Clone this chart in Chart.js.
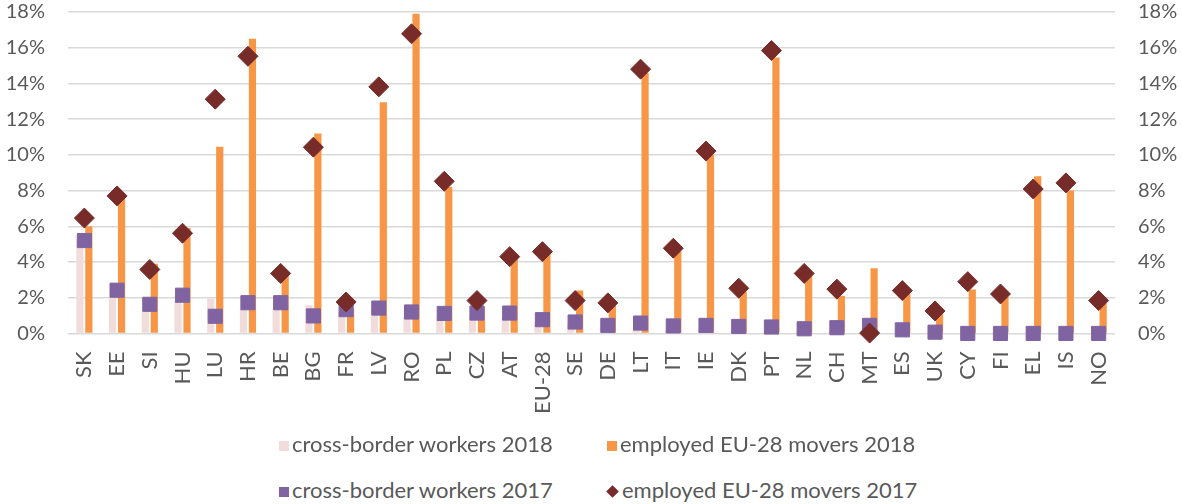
<!DOCTYPE html>
<html>
<head>
<meta charset="utf-8">
<script src="https://cdn.jsdelivr.net/npm/chart.js@4.4.1/dist/chart.umd.min.js"></script>
<style>
    body { margin: 0; background: #fff; font-family: Lato, sans-serif; }
    #wrap { position: relative; width: 1182px; height: 504px; overflow: hidden; }
    #chartBox { position: absolute; left: 0; top: 0; width: 1182px; height: 442px; }
    .item { position: absolute; font-size: 22px; color: #595959; white-space: nowrap; line-height: 24px; }
    .box { display: inline-block; width: 10px; height: 10px; margin-right: 3px; vertical-align: 1px; }
    .dia { display: inline-block; width: 9px; height: 9px; margin: 0 5px 0 1px; transform: rotate(45deg); vertical-align: 2px; background: #772C2A; }
</style>
</head>
<body>
<div id="wrap">
    <div id="chartBox"><canvas id="barChart"></canvas></div>
    <div class="item" style="left:279px; top:432px;"><span class="box" style="background:#F2DCDB"></span>cross-border workers 2018</div>
    <div class="item" style="left:607px; top:432px;"><span class="box" style="background:#F79646"></span>employed EU-28 movers 2018</div>
    <div class="item" style="left:279px; top:478px;"><span class="box" style="background:#8064A2"></span>cross-border workers 2017</div>
    <div class="item" style="left:607px; top:478px;"><span class="dia"></span>employed EU-28 movers 2017</div>
</div>
<script>
// countries, in the order of the original chart
var countries = ['SK', 'EE', 'SI', 'HU', 'LU', 'HR', 'BE', 'BG', 'FR', 'LV', 'RO', 'PL', 'CZ', 'AT', 'EU-28', 'SE',
    'DE', 'LT', 'IT', 'IE', 'DK', 'PT', 'NL', 'CH', 'MT', 'ES', 'UK', 'CY', 'FI', 'EL', 'IS', 'NO'];

// values in % of employed population
var crossBorder2018 = [5.3, 2.0, 1.2, 1.8, 1.95, 1.4, 1.4, 1.58, 1.2, 1.3, 0.9, 0.8, 0.9, 0.9, 0.6, 0.5,
    0.3, 0.2, 0.2, 0.2, 0.1, 0.1, 0.1, 0.1, 0.1, 0.1, 0.05, 0, 0, 0, 0, 0];
var movers2018 = [6.0, 7.7, 3.9, 5.9, 10.45, 16.5, 3.3, 11.2, 1.4, 12.95, 17.9, 8.2, 1.5, 4.2, 4.5, 2.4,
    1.6, 14.6, 4.6, 10.0, 2.35, 15.45, 3.2, 2.1, 3.65, 2.25, 1.1, 2.46, 2.05, 8.8, 8.0, 1.67];
var crossBorder2017 = [5.2, 2.42, 1.63, 2.14, 0.96, 1.72, 1.72, 0.98, 1.33, 1.42, 1.2, 1.12, 1.14, 1.14, 0.77, 0.64,
    0.45, 0.58, 0.42, 0.45, 0.39, 0.36, 0.26, 0.32, 0.45, 0.2, 0.07, 0, 0, 0, 0, 0];
var movers2017 = [6.46, 7.7, 3.58, 5.61, 13.12, 15.52, 3.36, 10.43, 1.76, 13.81, 16.78, 8.52, 1.84, 4.3, 4.58, 1.84,
    1.71, 14.8, 4.77, 10.21, 2.53, 15.84, 3.36, 2.48, 0.02, 2.4, 1.26, 2.9, 2.21, 8.09, 8.43, 1.84];

var yTicks = { min: 0, max: 18, step: 2 };

var tickFont = { family: 'Lato', size: 20 };
var xFont = { family: 'Lato', size: 22 };
var tickColor = '#595959';

function percentLabel(value) {
    return value + '%';
}

// fixed width for both value axes, so the plot sits where the original has it
function fixAxis(scale) {
    scale.width = 63;
    scale.paddingTop = 12;
    scale.paddingBottom = 12;
}

var ctx = document.getElementById('barChart');
var myChart = new Chart(ctx, {
    type: 'bar',
    data: {
        labels: countries,
        datasets: [
            {
                type: 'line',
                label: 'employed EU-28 movers 2017',
                data: movers2017,
                showLine: false,
                pointStyle: 'rectRot',
                pointRadius: 10,
                pointBackgroundColor: '#772C2A',
                pointBorderColor: '#772C2A',
                pointBorderWidth: 1,
                clip: false,
                order: 0
            },
            {
                type: 'line',
                label: 'cross-border workers 2017',
                data: crossBorder2017,
                showLine: false,
                pointStyle: 'rect',
                pointRadius: 10,
                pointBackgroundColor: '#8064A2',
                pointBorderColor: '#8064A2',
                pointBorderWidth: 1,
                clip: false,
                order: 1
            },
            {
                label: 'cross-border workers 2018',
                data: crossBorder2018,
                backgroundColor: '#F2DCDB',
                categoryPercentage: 0.55,
                barPercentage: 0.8,
                order: 2
            },
            {
                label: 'employed EU-28 movers 2018',
                data: movers2018,
                backgroundColor: '#F79646',
                categoryPercentage: 0.55,
                barPercentage: 0.8,
                order: 3
            }
        ]
    },
    options: {
        responsive: true,
        maintainAspectRatio: false,
        animation: false,
        layout: {
            padding: { left: 5, right: 4, top: 1, bottom: 18 }
        },
        plugins: {
            legend: { display: false },
            tooltip: { enabled: false }
        },
        scales: {
            x: {
                grid: { display: false },
                border: { display: false },
                ticks: {
                    font: xFont,
                    color: tickColor,
                    minRotation: 90,
                    maxRotation: 90,
                    padding: 10,
                    autoSkip: false
                }
            },
            y: {
                position: 'left',
                min: yTicks.min,
                max: yTicks.max,
                afterFit: fixAxis,
                grid: { color: '#D9D9D9', lineWidth: 1.5, drawTicks: false },
                border: { display: false },
                ticks: {
                    stepSize: yTicks.step,
                    font: tickFont,
                    color: tickColor,
                    padding: 23,
                    callback: percentLabel
                }
            },
            y2: {
                position: 'right',
                min: yTicks.min,
                max: yTicks.max,
                afterFit: fixAxis,
                grid: { display: false, drawTicks: false },
                border: { display: false },
                ticks: {
                    stepSize: yTicks.step,
                    font: tickFont,
                    color: tickColor,
                    padding: 23,
                    callback: percentLabel
                }
            }
        }
    }
});
</script>
</body>
</html>
